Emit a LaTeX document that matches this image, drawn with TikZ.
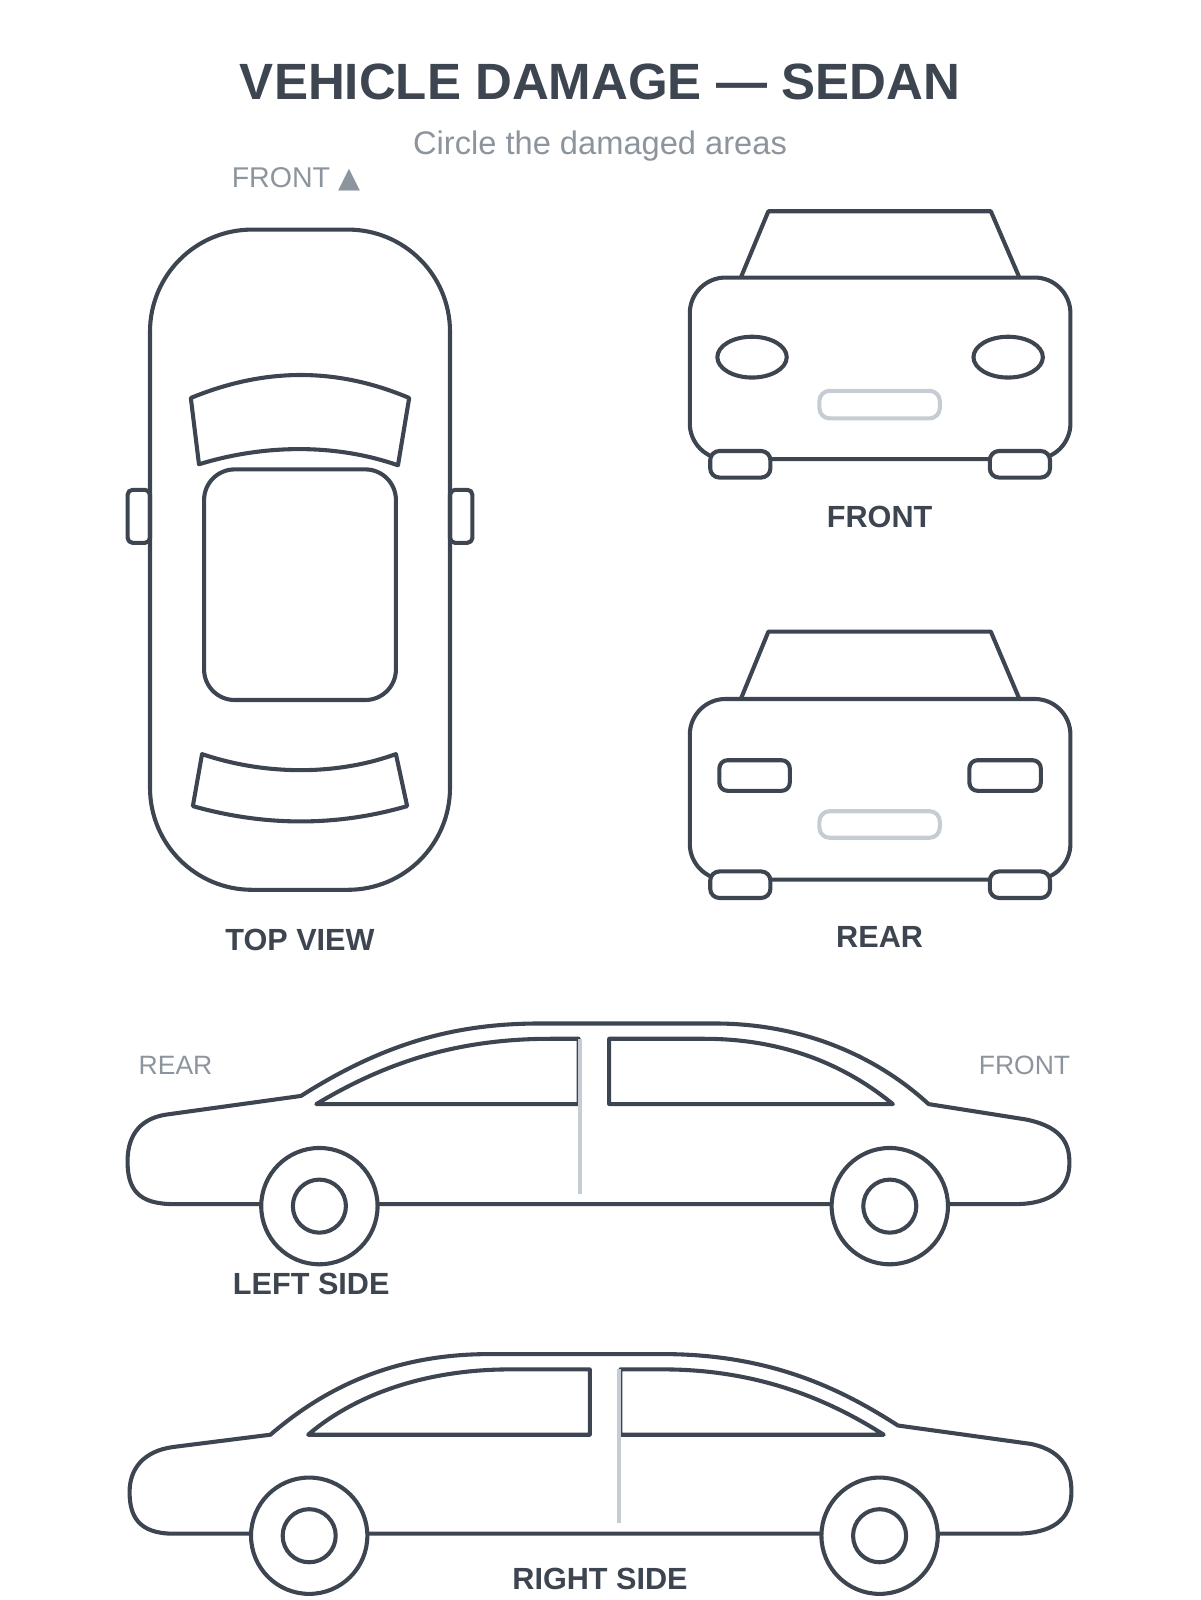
\documentclass[tikz,border=0pt]{standalone}
\usepackage{fontspec}
\setmainfont{Liberation Sans}
\newfontfamily\symf{DejaVu Sans}
\begin{document}
\begin{tikzpicture}[x=1pt,y=-1pt,line join=round,
  ln/.style={draw=dk,line width=4pt},
  lt/.style={draw=lg,line width=4pt},
  wh/.style={ln,fill=white},
  lab/.style={text=dk,font=\bfseries\fontsize{30}{30}\selectfont},
  glab/.style={text=tg,font=\fontsize{26}{26}\selectfont}]
\definecolor{dk}{HTML}{3C4550}
\definecolor{lg}{HTML}{C5CCD4}
\definecolor{tg}{HTML}{8C959D}
\useasboundingbox (0,0) rectangle (1176,1568);
\node[text=dk,font=\bfseries\fontsize{50}{50}\selectfont] (title) at (588,80) {VEHICLE DAMAGE — SEDAN};
\node[text=tg,font=\fontsize{32}{32}\selectfont] (sub) at (588,143) {Circle the damaged areas};
\node[text=tg,font=\fontsize{28}{28}\selectfont] (fr) at (290,176) {FRONT {\symf ▲}};
% top view
\draw[ln,rounded corners=100pt] (147,225) rectangle (441,872);
\draw[ln,rounded corners=5pt] (125,480) rectangle (147,532);
\draw[ln,rounded corners=5pt] (441,480) rectangle (463,532);
\draw[ln] (187,390) .. controls (260,360) and (330,360) .. (401,390) -- (390,456) .. controls (330,435) and (260,435) .. (195,455) -- cycle;
\draw[ln,rounded corners=30pt] (200,460) rectangle (388,686);
\draw[ln] (198,739) .. controls (260,760) and (330,760) .. (388,739) -- (399,790) .. controls (330,810) and (260,810) .. (189,790) -- cycle;
\node[lab] (tv) at (294,921) {TOP VIEW};
% front
\draw[ln] (726,272) -- (753,207) -- (971,207) -- (999,272);
\draw[ln,rounded corners=35pt] (676,272) rectangle (1049,450);
\draw[ln] (737,350) ellipse[x radius=34,y radius=20];
\draw[ln] (988,350) ellipse[x radius=34,y radius=20];
\draw[lt,rounded corners=10pt] (803,383) rectangle (921,410);
\draw[wh,rounded corners=9pt] (696,442) rectangle (755,468);
\draw[wh,rounded corners=9pt] (970,442) rectangle (1029,468);
\node[lab] (fl) at (862,507) {FRONT};
% rear
\draw[ln] (726,685) -- (753,619) -- (971,619) -- (999,685);
\draw[ln,rounded corners=35pt] (676,685) rectangle (1049,862);
\draw[ln,rounded corners=8pt] (705,745) rectangle (774,775);
\draw[ln,rounded corners=8pt] (950,745) rectangle (1020,775);
\draw[lt,rounded corners=10pt] (803,795) rectangle (921,821);
\draw[wh,rounded corners=9pt] (696,854) rectangle (755,880);
\draw[wh,rounded corners=9pt] (970,854) rectangle (1029,880);
\node[lab] (rl) at (862,918) {REAR};
% left side
\draw[ln] (295,1074) .. controls (380,1020) and (450,1003) .. (530,1003) -- (700,1003) .. controls (800,1003) and (870,1045) .. (910,1082) -- (1005,1097) .. controls (1045,1105) and (1048,1125) .. (1048,1140) .. controls (1048,1165) and (1030,1180) .. (995,1180) -- (170,1180) .. controls (135,1180) and (125,1165) .. (125,1138) .. controls (125,1110) and (140,1095) .. (165,1092) -- cycle;
\draw[ln] (310,1082) .. controls (380,1040) and (450,1018) .. (540,1018) -- (567,1018) -- (567,1082) -- cycle;
\draw[ln] (597,1018) -- (690,1018) .. controls (770,1018) and (830,1045) .. (875,1082) -- (597,1082) -- cycle;
\draw[lt] (568,1018) -- (568,1170);
\draw[wh] (313,1182) circle[radius=57];
\draw[ln] (313,1182) circle[radius=26];
\draw[wh] (872,1182) circle[radius=57];
\draw[ln] (872,1182) circle[radius=26];
\node[glab] (lr) at (172,1044) {REAR};
\node[glab] (lf) at (1004,1044) {FRONT};
\node[lab] (ls) at (305,1258) {LEFT SIDE};
% right side
\draw[ln] (265,1406) .. controls (330,1350) and (400,1327) .. (480,1327) -- (650,1327) .. controls (760,1327) and (830,1365) .. (880,1397) -- (1010,1415) .. controls (1045,1422) and (1050,1445) .. (1050,1462) .. controls (1050,1490) and (1030,1503) .. (995,1503) -- (170,1503) .. controls (135,1503) and (127,1485) .. (127,1462) .. controls (127,1440) and (140,1422) .. (170,1418) -- cycle;
\draw[ln] (302,1406) .. controls (350,1365) and (420,1342) .. (500,1342) -- (578,1342) -- (578,1406) -- cycle;
\draw[ln] (608,1342) -- (650,1342) .. controls (740,1342) and (810,1370) .. (866,1406) -- (608,1406) -- cycle;
\draw[lt] (607,1342) -- (607,1493);
\draw[wh] (303,1505) circle[radius=57];
\draw[ln] (303,1505) circle[radius=26];
\draw[wh] (862,1505) circle[radius=57];
\draw[ln] (862,1505) circle[radius=26];
\node[lab] (rs) at (588,1547) {RIGHT SIDE};
\end{tikzpicture}
\end{document}
